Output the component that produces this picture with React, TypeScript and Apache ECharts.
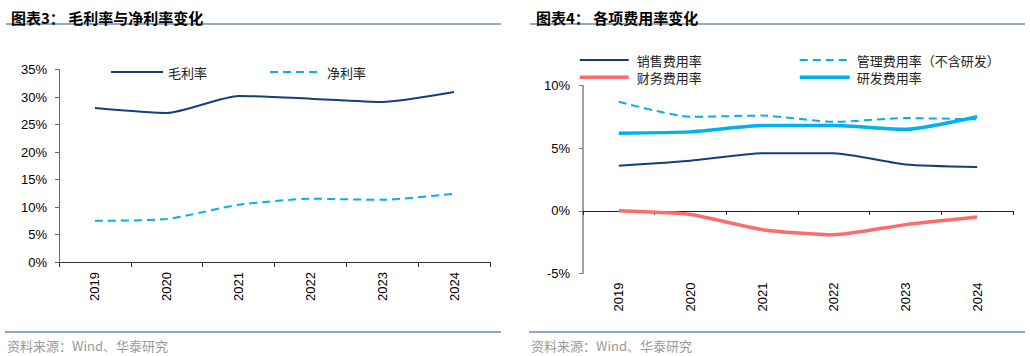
import React, { useEffect, useRef } from "react";
import * as echarts from "echarts";

const years = ["2019", "2020", "2021", "2022", "2023", "2024"];
const yTicksLeft = { min: 0, max: 35, interval: 5 };
const yTicksRight = { min: -5, max: 10, interval: 5 };

const grossMargin = [28.0, 27.1, 30.2, 29.7, 29.1, 30.9];
const netMargin = [7.5, 7.8, 10.4, 11.5, 11.3, 12.4];

const sellingRate = [3.6, 4.0, 4.6, 4.6, 3.7, 3.5];
const adminRate = [8.7, 7.5, 7.6, 7.1, 7.4, 7.3];
const financeRate = [0.0, -0.3, -1.5, -1.9, -1.1, -0.5];
const rdRate = [6.2, 6.3, 6.8, 6.8, 6.5, 7.5];

const NAVY = "#133F7C";
const LIGHT = "#00B0F0";
const RED = "#FF6A6A";
const RULE = "#8FA8C6";
const CJK = "'Noto Sans CJK SC', sans-serif";
const LAT = "'Liberation Sans', Arial, sans-serif";

export default function App() {
  const ref = useRef<HTMLDivElement>(null);
  useEffect(() => {
    if (!ref.current) return;
    const chart = echarts.init(ref.current, undefined, { renderer: "svg" });
    const axisLabelY = { color: "#000", fontSize: 13, fontFamily: LAT, formatter: "{value}%" };
    const legendItemStyle = { opacity: 0, borderWidth: 0 };
    const legendText = { fontSize: 13, lineHeight: 14, color: "#222", fontFamily: CJK };
    const option: any = {
      animation: false,
      backgroundColor: "#fff",
      title: [
        { text: "图表3： 毛利率与净利率变化", left: 6, top: 5, textStyle: { fontSize: 15, fontWeight: "bold", color: "#000", fontFamily: CJK } },
        { text: "图表4： 各项费用率变化", left: 531, top: 5, textStyle: { fontSize: 15, fontWeight: "bold", color: "#000", fontFamily: CJK } },
      ],
      grid: [
        { left: 59, top: 69.5, width: 431, height: 192.5 },
        { left: 583, top: 85.5, width: 430, height: 188 },
      ],
      legend: [
        {
          left: 110, top: 65, padding: 0, itemWidth: 52, itemHeight: 14, itemGap: 62,
          data: [
            { name: "毛利率", lineStyle: { width: 2 } },
            { name: "净利率", lineStyle: { width: 2 } },
          ],
          itemStyle: legendItemStyle,
          textStyle: legendText,
        },
        {
          left: 578, top: 53, padding: 0, orient: "vertical", itemWidth: 49, itemHeight: 14, itemGap: 3.3,
          data: [
            { name: "销售费用率", lineStyle: { width: 2 } },
            { name: "财务费用率", lineStyle: { width: 3.5 } },
          ],
          itemStyle: legendItemStyle,
          textStyle: { ...legendText, padding: [0, 0, 0, 3] },
        },
        {
          left: 798, top: 53, padding: 0, orient: "vertical", itemWidth: 50, itemHeight: 14, itemGap: 3.3,
          data: [
            { name: "管理费用率（不含研发）", lineStyle: { width: 2 } },
            { name: "研发费用率", lineStyle: { width: 3.5 } },
          ],
          itemStyle: legendItemStyle,
          textStyle: { ...legendText, padding: [0, 0, 0, 2] },
        },
      ],
      xAxis: [
        {
          type: "category", gridIndex: 0, data: years, boundaryGap: true,
          axisLine: { lineStyle: { color: "#333", width: 1 } },
          axisTick: { show: true, length: 5, lineStyle: { color: "#333" } },
          axisLabel: { rotate: 90, margin: 10, color: "#000", fontSize: 13, fontFamily: LAT },
          splitLine: { show: false },
        },
        {
          type: "category", gridIndex: 1, data: years, boundaryGap: true, position: "bottom",
          axisLine: { onZero: true, lineStyle: { color: "#222", width: 1 } },
          axisTick: { show: true, length: 4, lineStyle: { color: "#222" } },
          axisLabel: { show: false },
          splitLine: { show: false },
        },
        {
          type: "category", gridIndex: 1, data: years, boundaryGap: true, position: "bottom",
          axisLine: { show: false, onZero: false },
          axisTick: { show: false },
          axisLabel: { rotate: 90, margin: 9, color: "#000", fontSize: 13, fontFamily: LAT },
          splitLine: { show: false },
        },
      ],
      yAxis: [
        {
          type: "value", gridIndex: 0, ...yTicksLeft,
          axisLine: { show: true, lineStyle: { color: "#666", width: 1 } },
          axisTick: { show: true, length: 4, lineStyle: { color: "#666" } },
          axisLabel: { ...axisLabelY, margin: 12 },
          splitLine: { show: false },
        },
        {
          type: "value", gridIndex: 1, ...yTicksRight,
          axisLine: { show: true, lineStyle: { color: "#808080", width: 1.5 } },
          axisTick: { show: true, length: 4, lineStyle: { color: "#808080" } },
          axisLabel: { ...axisLabelY, margin: 13 },
          splitLine: { show: false },
        },
      ],
      series: [
        {
          name: "毛利率", type: "line", xAxisIndex: 0, yAxisIndex: 0, data: grossMargin,
          symbol: "none", smooth: 0.2, lineStyle: { color: NAVY, width: 2 }, itemStyle: { color: NAVY },
        },
        {
          name: "净利率", type: "line", xAxisIndex: 0, yAxisIndex: 0, data: netMargin,
          symbol: "none", smooth: 0.2, lineStyle: { color: LIGHT, width: 2, type: [8, 5] }, itemStyle: { color: LIGHT },
        },
        {
          name: "销售费用率", type: "line", xAxisIndex: 1, yAxisIndex: 1, data: sellingRate,
          symbol: "none", smooth: 0.2, lineStyle: { color: NAVY, width: 2 }, itemStyle: { color: NAVY },
        },
        {
          name: "管理费用率（不含研发）", type: "line", xAxisIndex: 1, yAxisIndex: 1, data: adminRate,
          symbol: "none", smooth: 0.2, lineStyle: { color: LIGHT, width: 2, type: [8, 5] }, itemStyle: { color: LIGHT },
        },
        {
          name: "财务费用率", type: "line", xAxisIndex: 1, yAxisIndex: 1, data: financeRate,
          symbol: "none", smooth: 0.2, lineStyle: { color: RED, width: 3.5 }, itemStyle: { color: RED },
        },
        {
          name: "研发费用率", type: "line", xAxisIndex: 1, yAxisIndex: 1, data: rdRate,
          symbol: "none", smooth: 0.2, lineStyle: { color: LIGHT, width: 3.5 }, itemStyle: { color: LIGHT },
        },
      ],
      graphic: [
        { type: "line", shape: { x1: 6, y1: 24, x2: 501, y2: 24 }, style: { stroke: RULE, lineWidth: 2 } },
        { type: "line", shape: { x1: 530, y1: 24, x2: 1025, y2: 24 }, style: { stroke: RULE, lineWidth: 2 } },
        { type: "line", shape: { x1: 5, y1: 332, x2: 501, y2: 332 }, style: { stroke: RULE, lineWidth: 2 } },
        { type: "line", shape: { x1: 529, y1: 332, x2: 1025, y2: 332 }, style: { stroke: RULE, lineWidth: 2 } },
        { type: "text", x: 7, y: 345, style: { text: "资料来源：Wind、华泰研究", fill: "#9a9a9a", font: `13px ${CJK}`, verticalAlign: "middle" } },
        { type: "text", x: 531, y: 345, style: { text: "资料来源：Wind、华泰研究", fill: "#9a9a9a", font: `13px ${CJK}`, verticalAlign: "middle" } },
      ],
    };
    chart.setOption(option);
    return () => chart.dispose();
  }, []);
  return <div ref={ref} style={{ position: "absolute", left: 0, top: 0, width: 1030, height: 356 }} />;
}
